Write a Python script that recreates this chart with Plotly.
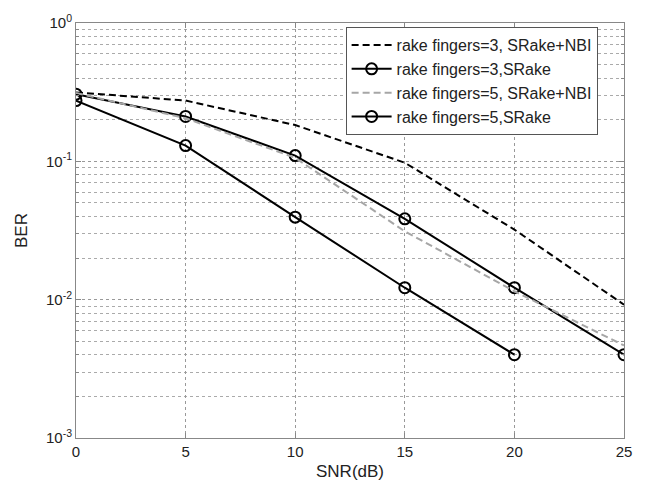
import plotly.graph_objects as go

snr_a = [0, 5, 10, 15, 20, 25]
snr_b = [0, 5, 10, 15, 20]
ber_f3_nbi = [0.315, 0.275, 0.183, 0.0977, 0.0321, 0.0092]
ber_f3_srake = [0.306, 0.211, 0.110, 0.0384, 0.0122, 0.0040]
ber_f5_nbi = [0.312, 0.205, 0.106, 0.0312, 0.0115, 0.00467]
ber_f5_srake = [0.275, 0.130, 0.0395, 0.0122, 0.0040]

names = ["rake fingers=3, SRake+NBI", "rake fingers=3,SRake",
         "rake fingers=5, SRake+NBI", "rake fingers=5,SRake"]
x_ticks = [0, 5, 10, 15, 20, 25]
y_ticks = [1e-3, 1e-2, 1e-1, 1]
y_ticktext = ["10<sup>-3</sup>", "10<sup>-2</sup>", "10<sup>-1</sup>", "10<sup>0</sup>"]
minor_vals = [m * 10.0 ** e for e in (-3, -2, -1) for m in range(2, 10)]

fig = go.Figure()
fig.add_trace(go.Scatter(x=snr_a, y=ber_f3_nbi, name=names[0], mode="lines",
                         line=dict(color="black", width=2, dash="7px,4px")))
fig.add_trace(go.Scatter(x=snr_a, y=ber_f3_srake, name=names[1], mode="lines+markers",
                         line=dict(color="black", width=2),
                         marker=dict(symbol="circle-open", size=11, color="black", line=dict(width=2))))
fig.add_trace(go.Scatter(x=snr_a, y=ber_f5_nbi, name=names[2], mode="lines",
                         line=dict(color="#a6a6a6", width=2, dash="7px,4px")))
fig.add_trace(go.Scatter(x=snr_b, y=ber_f5_srake, name=names[3], mode="lines+markers",
                         line=dict(color="black", width=2),
                         marker=dict(symbol="circle-open", size=11, color="black", line=dict(width=2))))

fig.update_layout(
    width=645, height=490,
    margin=dict(l=76, r=21, t=19, b=47),
    paper_bgcolor="white", plot_bgcolor="white",
    font=dict(family="Liberation Sans, Arial, sans-serif", size=14, color="#222"),
    showlegend=True,
    legend=dict(x=0.492, y=0.99, xanchor="left", yanchor="top",
                bordercolor="#555", borderwidth=1, bgcolor="white",
                font=dict(size=16), tracegroupgap=0, itemwidth=40),
    xaxis=dict(range=[0, 25], tickvals=x_ticks, showgrid=True, gridcolor="#999",
               griddash="dot", gridwidth=1, showline=True, linecolor="#888", mirror="ticks",
               ticks="inside", ticklen=5, tickcolor="#888", zeroline=False,
               tickfont=dict(size=15),
               title=dict(text="SNR(dB)", standoff=6)),
    yaxis=dict(type="log", range=[-3, 0], tickvals=y_ticks, ticktext=y_ticktext,
               showgrid=True, gridcolor="#999", griddash="dot", gridwidth=1,
               showline=True, linecolor="#888", mirror="ticks", ticks="inside",
               ticklen=5, tickcolor="#888", zeroline=False,
               tickfont=dict(size=15),
               minor=dict(tickvals=minor_vals, showgrid=True, gridcolor="#aaa",
                          griddash="dot", gridwidth=1, ticks="inside", ticklen=3,
                          tickcolor="#888"),
               title=dict(text="BER", standoff=14)),
)

fig.write_html("out.html")
